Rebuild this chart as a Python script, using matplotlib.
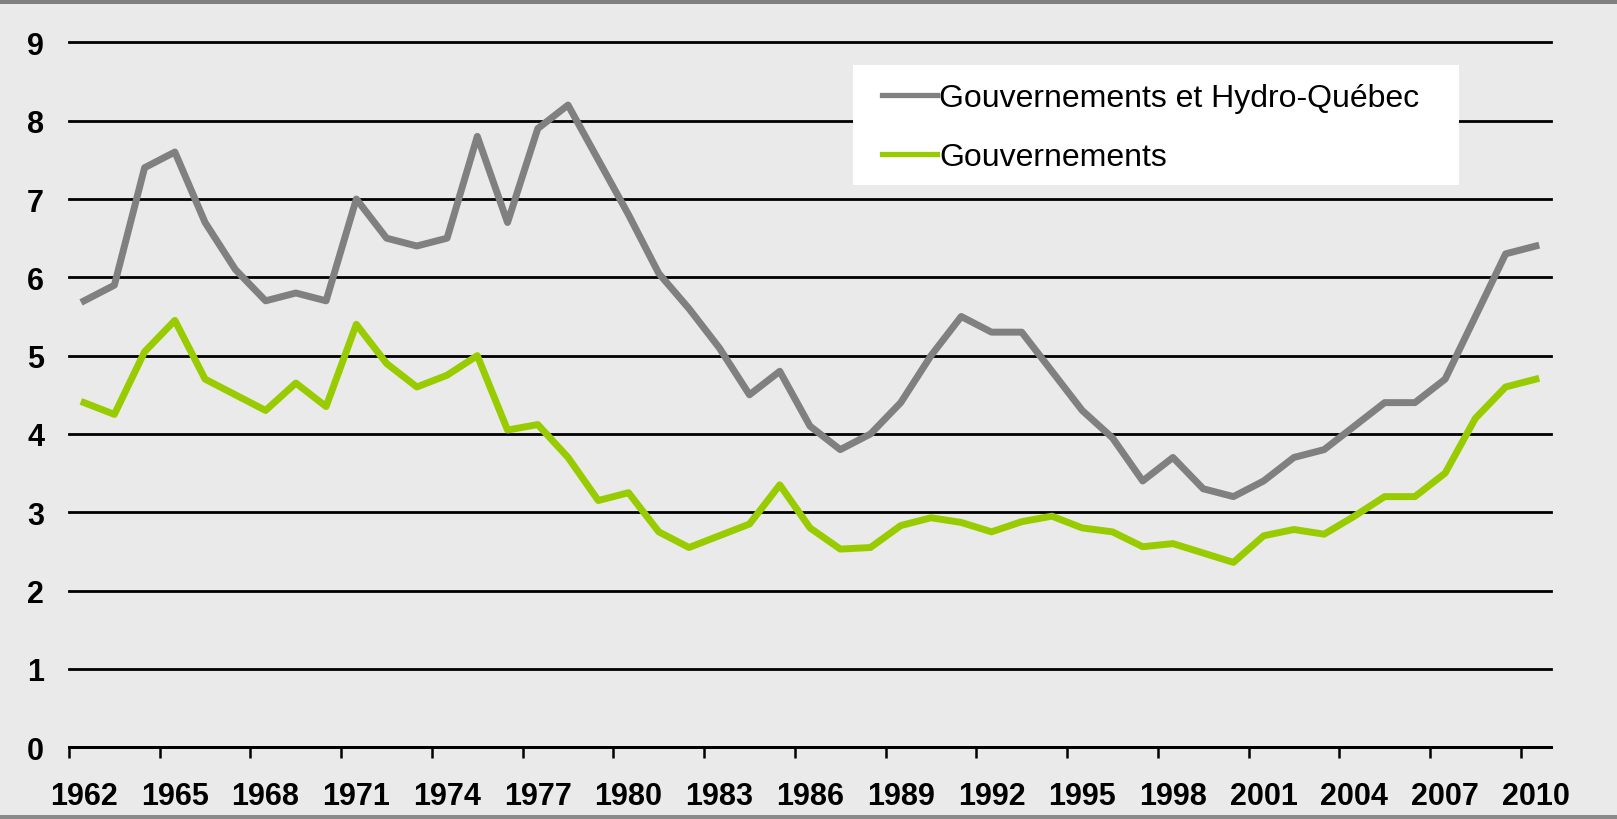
import numpy as np
import matplotlib
matplotlib.use('Agg')
import matplotlib.pyplot as plt
from matplotlib.patches import Rectangle

# ---- data ----
years = list(range(1962, 2011))
gouv_hq = [5.7, 5.9, 7.4, 7.6, 6.7, 6.1, 5.7, 5.8, 5.7, 7.0,
           6.5, 6.4, 6.5, 7.8, 6.7, 7.9, 8.2, 7.5, 6.8, 6.05,
           5.6, 5.1, 4.5, 4.8, 4.1, 3.8, 4.0, 4.4, 5.0, 5.5,
           5.3, 5.3, 4.8, 4.3, 3.95, 3.4, 3.7, 3.3, 3.2, 3.4,
           3.7, 3.8, 4.1, 4.4, 4.4, 4.7, 5.5, 6.3, 6.4]
gouv = [4.4, 4.25, 5.05, 5.45, 4.7, 4.5, 4.3, 4.65, 4.35, 5.4,
        4.9, 4.6, 4.75, 5.0, 4.05, 4.12, 3.7, 3.15, 3.25, 2.75,
        2.55, 2.7, 2.85, 3.35, 2.8, 2.53, 2.55, 2.83, 2.93, 2.87,
        2.75, 2.88, 2.95, 2.8, 2.75, 2.56, 2.6, 2.48, 2.36, 2.7,
        2.78, 2.72, 2.95, 3.2, 3.2, 3.5, 4.2, 4.6, 4.7]
labels = ['Gouvernements et Hydro-Québec', 'Gouvernements']
yticks = list(range(0, 10))

plt.rcParams['font.family'] = ['Liberation Sans', 'DejaVu Sans']

W, H = 1617, 820
bg = '#eaeaea'
fig = plt.figure(figsize=(W / 100, H / 100), dpi=100, facecolor=bg)
ax = fig.add_axes([69 / W, 1 - 748.2 / H, (1551 - 69) / W, (748.2 - 43.4) / H])
ax.set_facecolor(bg)

x = np.arange(len(years))
ax.plot(x, gouv_hq, color='#808080', lw=5.0, label=labels[0], zorder=3)
ax.plot(x, gouv, color='#99cc00', lw=5.0, label=labels[1], zorder=3)

ax.set_xlim(-0.5, len(years) - 0.5)
ax.set_ylim(0, 9)

# y axis: gridlines only
ax.set_yticks(yticks)
ax.set_yticklabels([str(v) for v in yticks], fontsize=22, fontweight='bold')
ax.tick_params(axis='y', length=0, pad=18)
ax.grid(axis='y', color='black', lw=2.0)
for gl in ax.get_ygridlines():
    gl.set_clip_on(False)
ax.set_axisbelow(True)

# x axis: ticks between categories, labels every 3 years
ax.set_xticks(np.arange(-0.5, len(years) - 1, 3))
ax.set_xticklabels([])
ax.tick_params(axis='x', which='major', length=8, width=1.8, color='black', direction='out')
ax.set_xticks(x[::3], minor=True)
ax.set_xticklabels([str(y) for y in years[::3]], minor=True,
                   fontsize=22, fontweight='bold')
ax.tick_params(axis='x', which='minor', length=0, pad=24.5)

for s in ['left', 'right', 'top']:
    ax.spines[s].set_visible(False)
ax.spines['bottom'].set_linewidth(2.0)

# legend on a white box
box = Rectangle((852.7 / W, 1 - 185.7 / H), (1459 - 852.7) / W, (185.7 - 65.7) / H,
                transform=fig.transFigure, facecolor='white', edgecolor='none', zorder=5)
fig.add_artist(box)
leg = ax.legend(loc='center left', bbox_to_anchor=(881.7 / W, 1 - 128.6 / H),
                bbox_transform=fig.transFigure, frameon=False, fontsize=23,
                handlelength=1.72, handletextpad=0.08, borderpad=0, borderaxespad=0,
                labelspacing=0.92)
leg.set_zorder(6)
fig.add_artist(leg)
for h in leg.get_lines():
    h.set_linewidth(3.8)

# gray bands top and bottom
fig.add_artist(Rectangle((0, 1 - 4.7 / H), 1, 4.7 / H, transform=fig.transFigure,
                         facecolor='#808080', edgecolor='none'))
fig.add_artist(Rectangle((0, 0), 1, 4.5 / H, transform=fig.transFigure,
                         facecolor='#8a8a8a', edgecolor='none'))

fig.savefig('out.png', dpi=100, facecolor=bg)
